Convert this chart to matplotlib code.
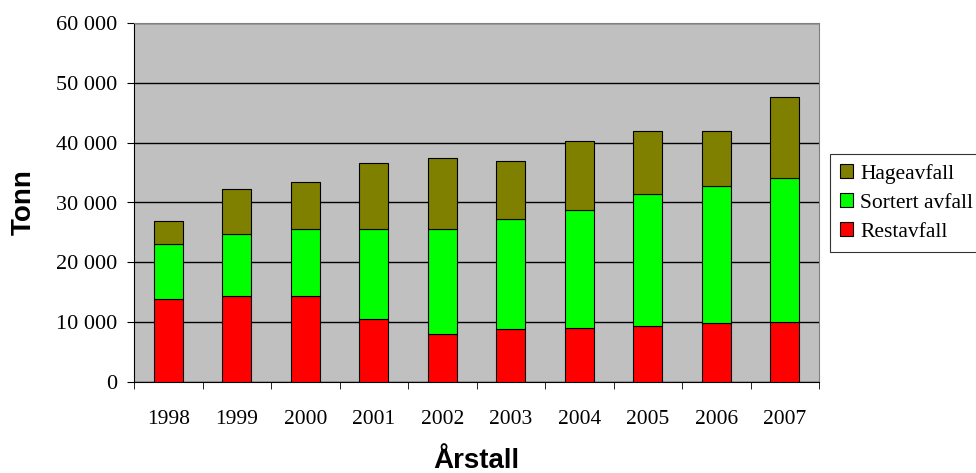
import matplotlib.pyplot as plt
import numpy as np

years = ['1998', '1999', '2000', '2001', '2002', '2003', '2004', '2005', '2006', '2007']
restavfall = [13800, 14400, 14300, 10600, 8000, 8900, 9100, 9400, 9900, 10100]
sortert = [9200, 10300, 11300, 15000, 17600, 18300, 19600, 22000, 22800, 24000]
hageavfall = [3900, 7600, 7900, 11000, 11900, 9800, 11500, 10500, 9200, 13600]

serif = 'Liberation Serif'
sans = 'Liberation Sans'

fig = plt.figure(figsize=(9.76, 4.73), dpi=100)
ax = fig.add_axes([134 / 976, 1 - 382 / 473, 685 / 976, 359 / 473])
ax.set_facecolor('#C0C0C0')

x = np.arange(len(years))
w = 0.42
rest = np.array(restavfall)
sort = np.array(sortert)
hage = np.array(hageavfall)
ax.bar(x, rest, w, color='#FF0000', edgecolor='black', linewidth=0.8, label='Restavfall', zorder=3)
ax.bar(x, sort, w, bottom=rest, color='#00FF00', edgecolor='black', linewidth=0.8, label='Sortert avfall', zorder=3)
ax.bar(x, hage, w, bottom=rest + sort, color='#808000', edgecolor='black', linewidth=0.8, label='Hageavfall', zorder=3)

ax.set_xlim(-0.5, len(years) - 0.5)
ax.set_ylim(0, 60000)
ax.set_yticks(range(0, 60001, 10000))
ax.set_yticklabels([f'{v:,}'.replace(',', ' ') for v in range(0, 60001, 10000)],
                   fontfamily=serif, fontsize=16)
ax.yaxis.grid(True, color='black', linewidth=1, zorder=0)
ax.set_axisbelow(True)

ax.set_xticks(x)
ax.set_xticklabels(years, fontfamily=serif, fontsize=15.5)
ax.set_xticks(np.arange(-0.5, len(years)), minor=True)
ax.tick_params(axis='x', which='major', length=0, pad=20)
ax.tick_params(axis='x', which='minor', length=5, direction='out', color='black')
ax.tick_params(axis='y', length=5, direction='out', pad=7, color='black')

for side in ['top', 'right']:
    ax.spines[side].set_color('#808080')
for side in ['left', 'bottom']:
    ax.spines[side].set_color('black')

ax.set_ylabel('Tonn', fontfamily=sans, fontweight='bold', fontsize=20, labelpad=14)
ax.set_xlabel('Årstall', fontfamily=sans, fontweight='bold', fontsize=20, labelpad=14)

handles, labels = ax.get_legend_handles_labels()
leg = fig.legend(handles[::-1], labels[::-1], loc='upper left',
                 bbox_to_anchor=(830 / 976, 1 - 154 / 473),
                 prop={'family': serif, 'size': 15.5}, frameon=True, fancybox=False,
                 edgecolor='black', handlelength=0.6, handleheight=0.6,
                 handletextpad=0.35, borderpad=0.45, labelspacing=0.45, borderaxespad=0)
leg.get_frame().set_linewidth(0.8)

fig.savefig('out.png', dpi=100)
